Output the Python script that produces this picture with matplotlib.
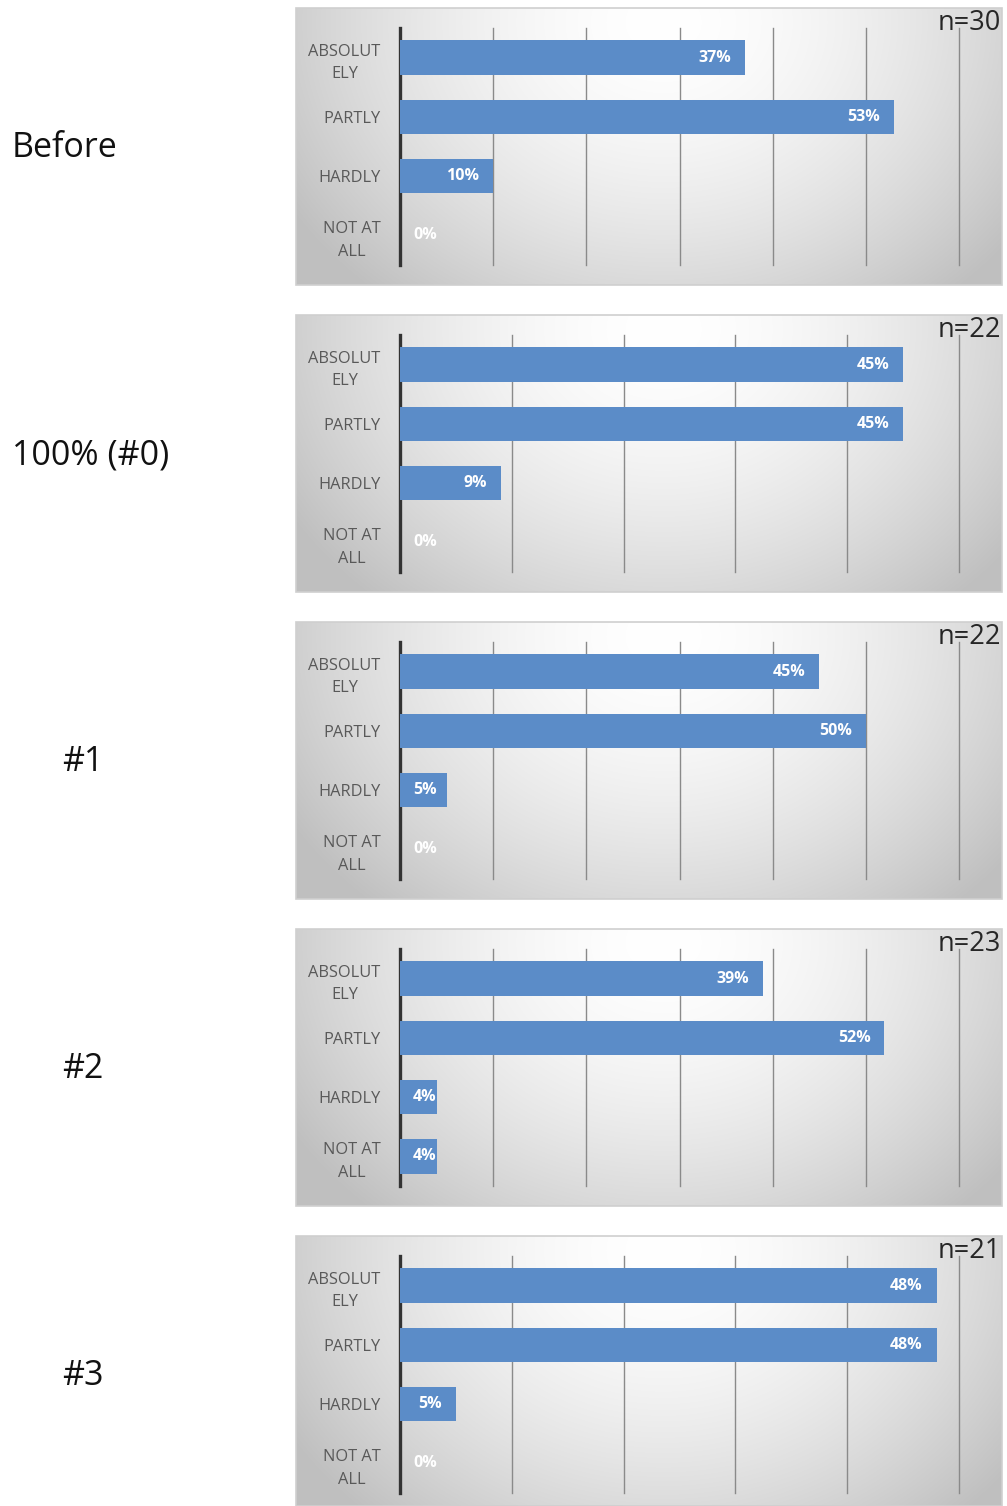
import numpy as np
import matplotlib
matplotlib.use("Agg")
import matplotlib.pyplot as plt
from matplotlib.patches import Rectangle

# ---- data -------------------------------------------------------------
categories = ["ABSOLUT\nELY", "PARTLY", "HARDLY", "NOT AT\nALL"]
groups = ["Before", "100% (#0)", "#1", "#2", "#3"]
sample_sizes = [30, 22, 22, 23, 21]
before = [37, 53, 10, 0]
round0 = [45, 45, 9, 0]
round1 = [45, 50, 5, 0]
round2 = [39, 52, 4, 4]
round3 = [48, 48, 5, 0]
series = [before, round0, round1, round2, round3]
axis_max = [60, 50, 60, 60, 50]
tick_step = 10

# ---- layout (pixels) --------------------------------------------------
W, H = 1007, 1506
DPI = 100
fig = plt.figure(figsize=(W / DPI, H / DPI), dpi=DPI)
fig.patch.set_facecolor("white")

FONT = ["Open Sans", "DejaVu Sans"]
BAR_COLOR = "#5b8cc8"


def px_axes(x, y, w, h, **kw):
    """Axes placed by pixel box (top-left origin)."""
    return fig.add_axes([x / W, 1 - (y + h) / H, w / W, h / H], **kw)


def gradient(h, w):
    yy, xx = np.mgrid[0:h, 0:w]
    dx = (xx / w - 0.52) / 0.62
    dy = (yy / h - 0.05) / 1.3
    r = np.clip(np.sqrt(dx ** 2 + dy ** 2), 0, 1)
    v = 1.0 - 0.25 * r ** 1.7
    return np.dstack([v, v, v])


panel_left, panel_w, panel_h = 296, 706, 277
plot_left, plot_w = 400, 559
pitch, first_top = 307, 8
label_x = [12, 12, 62, 62, 62]

for k, (name, n, vals, xmax) in enumerate(zip(groups, sample_sizes, series, axis_max)):
    top = first_top + pitch * k
    h = min(panel_h, H - top)

    # background panel with soft radial shading
    bg = px_axes(panel_left, top, panel_w, h)
    bg.imshow(gradient(panel_h, panel_w)[:h], aspect="auto",
              extent=(0, 1, 0, 1), interpolation="bilinear")
    bg.set_axis_off()
    bg.add_patch(Rectangle((0, 0), 1, 1, transform=bg.transAxes, fill=False,
                           edgecolor="#cfcfcf", linewidth=1.2, clip_on=False))

    # bar chart
    ax = px_axes(plot_left, top + 20, plot_w, 237)
    ax.patch.set_alpha(0)
    y = np.arange(len(categories))
    ax.barh(y, vals, height=0.58, color=BAR_COLOR, zorder=3)
    ax.set_xlim(0, xmax)
    ax.set_ylim(len(categories) - 0.5, -0.5)
    ax.set_xticks(np.arange(tick_step, xmax + 1, tick_step))
    ax.xaxis.grid(True, color="#8a8a8a", linewidth=1.0, zorder=0)
    for gl in ax.get_xgridlines():
        gl.set_clip_on(False)
    ax.tick_params(axis="x", length=0, labelbottom=False)
    ax.tick_params(axis="y", length=0, pad=14)
    ax.set_yticks(y)
    ax.set_yticklabels(categories, fontsize=11.8, color="#595959",
                       family=FONT, multialignment="center",
                       linespacing=1.55)
    for side in ("top", "right", "bottom"):
        ax.spines[side].set_visible(False)
    ax.spines["left"].set_color("#333333")
    ax.spines["left"].set_linewidth(2.4)

    # value labels at the inner end of each bar
    ppu = plot_w / xmax
    for yi, v in zip(y, vals):
        txt = f"{v}%"
        text_w = 11 * len(txt)
        if v * ppu - 13 - text_w >= 13:
            ax.annotate(txt, (v, yi), xytext=(-14, 0), textcoords="offset pixels",
                        ha="right", va="center", color="white", fontsize=11.5,
                        fontweight="bold", family=FONT, zorder=4)
        else:
            ax.annotate(txt, (0, yi), xytext=(13, 0), textcoords="offset pixels",
                        ha="left", va="center", color="white", fontsize=11.5,
                        fontweight="bold", family=FONT, zorder=4)

    # sample size in the corner
    fig.text(1001 / W, 1 - (top + 15) / H, f"n={n}", ha="right", va="center",
             fontsize=19.5, color="#262626", family=FONT)

    # group name on the left
    fig.text(label_x[k] / W, 1 - (top + 140) / H, name, ha="left", va="center",
             fontsize=24.5, color="#111111", family=FONT)

fig.savefig("out.png", dpi=DPI, facecolor="white")
